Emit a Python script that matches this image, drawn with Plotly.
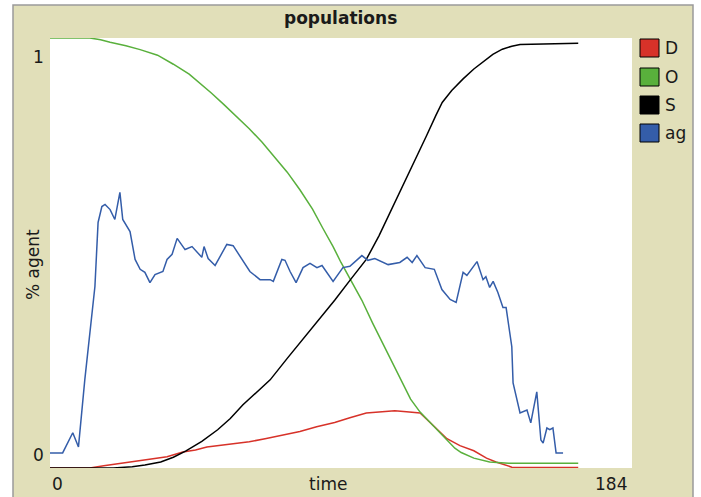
import plotly.graph_objects as go

# ---- data ----
d_t = [0, 12.6, 17, 21, 26, 31.6, 37, 42, 46, 49.6, 55, 60, 63, 68, 73.7, 79, 84.3, 90, 94.8, 100, 105, 109, 112.7, 117, 120, 123, 125.5, 129.6, 134, 138, 141, 146, 167]
d_v = [0, 0, 0.005, 0.009, 0.014, 0.019, 0.026, 0.037, 0.042, 0.049, 0.054, 0.058, 0.061, 0.068, 0.077, 0.085, 0.096, 0.106, 0.117, 0.128, 0.131, 0.133, 0.131, 0.128, 0.107, 0.085, 0.068, 0.052, 0.040, 0.023, 0.014, 0.002, 0.001]

o_t = [0, 12.6, 16, 19, 24, 28.5, 34, 39, 44, 47.4, 51, 55, 59, 63, 67, 71, 75, 79, 83, 86.3, 89.5, 92, 95, 98.6, 102, 106, 110, 114, 117, 120, 123, 125.5, 128, 130, 134, 139, 145, 167]
o_v = [1.0, 1.0, 0.996, 0.99, 0.982, 0.973, 0.96, 0.939, 0.916, 0.895, 0.872, 0.845, 0.817, 0.789, 0.758, 0.724, 0.688, 0.647, 0.602, 0.557, 0.515, 0.478, 0.438, 0.39, 0.337, 0.278, 0.216, 0.16, 0.13, 0.107, 0.083, 0.065, 0.046, 0.036, 0.023, 0.014, 0.011, 0.011]

s_t = [0, 20, 26, 30, 35, 39, 43, 48, 53, 57, 61, 65, 69.6, 75, 80, 85, 90, 95, 100, 104, 106.5, 110, 113, 116, 119, 122, 124, 127, 130.6, 134, 137, 140, 143, 146, 148.6, 155, 160, 167]
s_v = [0, 0, 0.003, 0.007, 0.014, 0.025, 0.04, 0.062, 0.089, 0.115, 0.147, 0.175, 0.205, 0.255, 0.30, 0.345, 0.39, 0.438, 0.485, 0.54, 0.578, 0.635, 0.678, 0.725, 0.772, 0.82, 0.85, 0.878, 0.905, 0.928, 0.946, 0.962, 0.974, 0.981, 0.985, 0.986, 0.987, 0.988]

ag_t = [0, 4, 7.2, 9, 11, 14.2, 15.2, 16.4, 17.4, 19, 20.5, 22.1, 23, 25.3, 26.9, 28.5, 30, 31.6, 33.2,
        35.7, 37, 38.6, 40.2, 42.7, 44.9, 48, 48.7, 50, 52.2, 55.9, 57.9, 60, 63.2, 66.4, 69.6, 70.6,
        73.3, 74.3, 75.9, 77.8, 80, 82.2, 84.4, 86, 89.5, 92.6, 94.8, 98.6, 100.5, 102.7, 106.9, 110.6,
        112.9, 114.5, 116, 118.6, 121.5, 123.9, 126.5, 128.4, 130.6, 131.8, 135, 136.9, 137.8, 139,
        140.1, 141.6, 143.2, 144.2, 146, 146.4, 148.6, 150.8, 152, 153.9, 155.2, 155.9, 157.1, 158,
        159, 160, 162.2]
ag_v = [0.035, 0.035, 0.082, 0.049, 0.205, 0.422, 0.571, 0.608, 0.613, 0.601, 0.578, 0.641, 0.578, 0.55, 0.485, 0.462, 0.455, 0.431, 0.45,
        0.457, 0.485, 0.497, 0.534, 0.508, 0.515, 0.49, 0.515, 0.487, 0.471, 0.52, 0.517, 0.492, 0.457, 0.438, 0.438, 0.434,
        0.485, 0.483, 0.457, 0.431, 0.466, 0.476, 0.466, 0.471, 0.434, 0.466, 0.469, 0.494, 0.483, 0.487, 0.473, 0.478,
        0.49, 0.478, 0.494, 0.466, 0.462, 0.415, 0.392, 0.385, 0.455, 0.448, 0.48, 0.438, 0.445, 0.42,
        0.434, 0.408, 0.373, 0.373, 0.282, 0.198, 0.128, 0.135, 0.105, 0.177, 0.065, 0.058, 0.093, 0.089,
        0.093, 0.035, 0.035]

series_names = ["D", "O", "S", "ag"]
series_colors = ["#D73229", "#59B03C", "#000000", "#345DA9"]
x_max = 184
y_ticks = ["0", "1"]

# ---- figure ----
W, H = 701, 497
L, R, T, B = 50, 69, 38, 29
pw, ph = W - L - R, H - T - B


def px(x):
    return (x - L) / pw


def py(y):
    return (H - B - y) / ph


fig = go.Figure()
for name, color, t, v in zip(series_names, series_colors, [d_t, o_t, s_t, ag_t], [d_v, o_v, s_v, ag_v]):
    fig.add_trace(go.Scatter(x=t, y=v, mode="lines", name=name,
                             line=dict(color=color, width=1.5), showlegend=False))

khaki = "#E1DFB9"
shapes = [
    dict(type="rect", xref="paper", yref="paper", x0=px(13), x1=px(693), y0=py(520), y1=py(5),
         fillcolor=khaki, line=dict(color="#9A9A9A", width=1.5), layer="below"),
    dict(type="rect", xref="paper", yref="paper", x0=0, x1=1, y0=0, y1=1,
         fillcolor="white", line=dict(width=0), layer="below"),
]
annotations = []
font = dict(family="DejaVu Sans", size=17, color="#1a1a1a")

# legend drawn as in the original widget
leg_y = [48, 77, 105, 133]
for name, color, yc in zip(series_names, series_colors, leg_y):
    shapes.append(dict(type="rect", xref="paper", yref="paper",
                       x0=px(640), x1=px(659), y0=py(yc + 9), y1=py(yc - 9),
                       fillcolor=color, line=dict(color="#000000", width=1)))
    annotations.append(dict(text=name, xref="paper", yref="paper", x=px(663), y=py(yc),
                            xanchor="left", yanchor="middle", showarrow=False, font=font))

annotations += [
    dict(text="<b>populations</b>", x=px(340), y=py(18), font=font),
    dict(text=y_ticks[1], x=px(38), y=py(57), font=font),
    dict(text=y_ticks[0], x=px(38), y=py(455), font=font),
    dict(text="0", x=px(57), y=py(484), font=font),
    dict(text=str(x_max), x=px(611), y=py(484), font=font),
    dict(text="time", x=px(328), y=py(484), font=font),
    dict(text="% agent", x=px(33), y=py(265), textangle=-90, font=font),
]
for a in annotations:
    a.setdefault("xref", "paper")
    a.setdefault("yref", "paper")
    a.setdefault("showarrow", False)
    a.setdefault("xanchor", "center")
    a.setdefault("yanchor", "middle")

fig.update_layout(
    width=W, height=H,
    margin=dict(l=L, r=R, t=T, b=B, pad=0),
    paper_bgcolor="white", plot_bgcolor="white",
    xaxis=dict(range=[0, x_max], showgrid=False, zeroline=False, showticklabels=False, ticks="", showline=False),
    yaxis=dict(range=[0, 1.0], showgrid=False, zeroline=False, showticklabels=False, ticks="", showline=False),
    shapes=shapes, annotations=annotations, showlegend=False,
)

fig.write_html("out.html", config={"displayModeBar": False},
               post_script="document.body.style.margin='0px';")
